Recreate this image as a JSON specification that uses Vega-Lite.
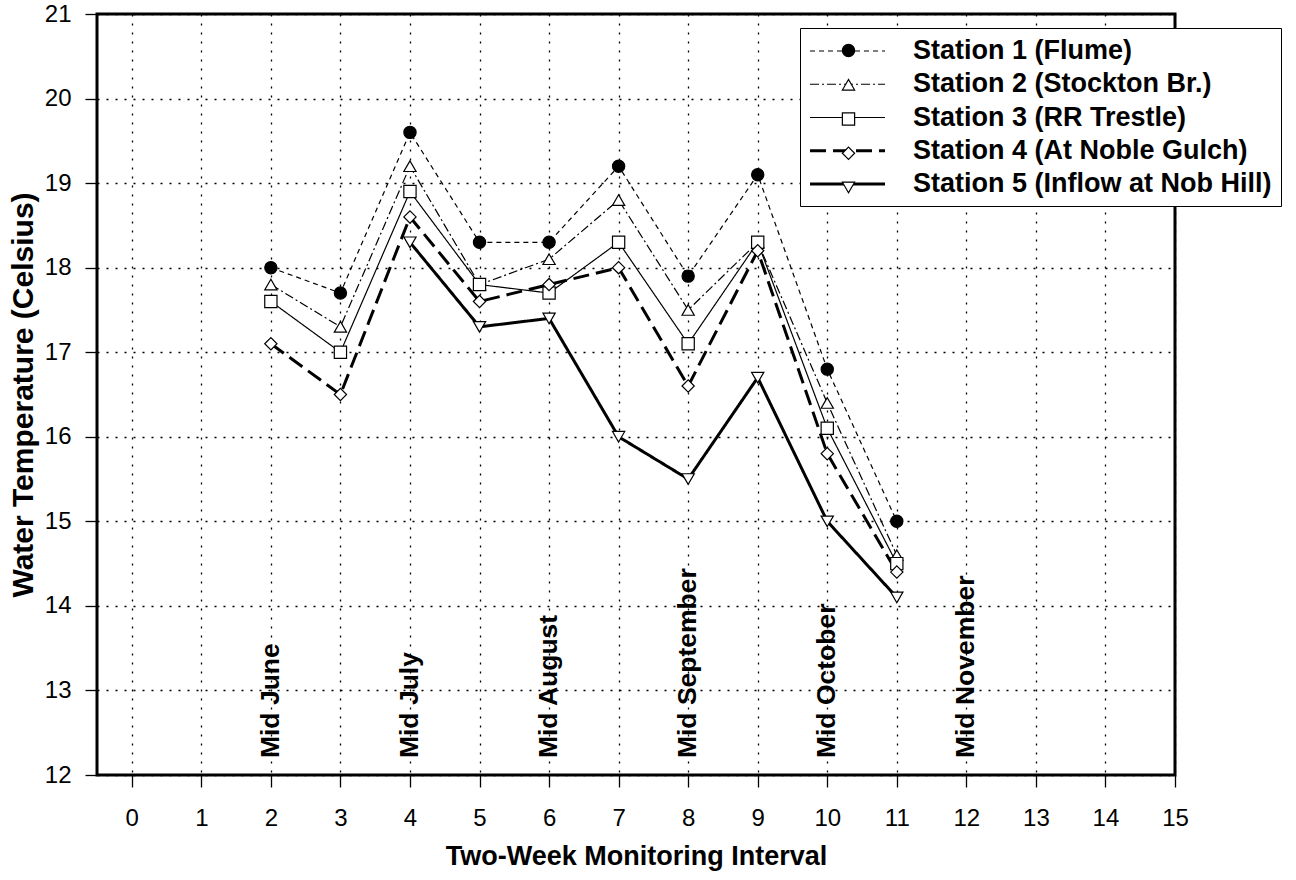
{
  "$schema": "https://vega.github.io/schema/vega-lite/v6.json",
  "width": 1078,
  "height": 761,
  "autosize": {"type": "none"},
  "padding": {"left": 97, "top": 14, "right": 121, "bottom": 105},
  "background": "white",
  "config": {
    "font": "Liberation Sans",
    "view": {"stroke": "black", "strokeWidth": 3},
    "axis": {
      "domain": false,
      "grid": true,
      "gridColor": "black",
      "gridDash": [2, 7],
      "gridWidth": 1.3,
      "gridOpacity": 1,
      "tickColor": "black",
      "tickWidth": 1.3,
      "tickSize": 12,
      "labelColor": "black",
      "labelFontSize": 24,
      "labelFlush": false,
      "labelOverlap": false,
      "titleColor": "black",
      "titleFontWeight": "bold"
    }
  },
  "datasets": {
    "temps": [
      {"interval": 2, "station": "Station 1 (Flume)", "temperature": 18.0},
      {"interval": 3, "station": "Station 1 (Flume)", "temperature": 17.7},
      {"interval": 4, "station": "Station 1 (Flume)", "temperature": 19.6},
      {"interval": 5, "station": "Station 1 (Flume)", "temperature": 18.3},
      {"interval": 6, "station": "Station 1 (Flume)", "temperature": 18.3},
      {"interval": 7, "station": "Station 1 (Flume)", "temperature": 19.2},
      {"interval": 8, "station": "Station 1 (Flume)", "temperature": 17.9},
      {"interval": 9, "station": "Station 1 (Flume)", "temperature": 19.1},
      {"interval": 10, "station": "Station 1 (Flume)", "temperature": 16.8},
      {"interval": 11, "station": "Station 1 (Flume)", "temperature": 15.0},
      {"interval": 2, "station": "Station 2 (Stockton Br.)", "temperature": 17.8},
      {"interval": 3, "station": "Station 2 (Stockton Br.)", "temperature": 17.3},
      {"interval": 4, "station": "Station 2 (Stockton Br.)", "temperature": 19.2},
      {"interval": 5, "station": "Station 2 (Stockton Br.)", "temperature": 17.8},
      {"interval": 6, "station": "Station 2 (Stockton Br.)", "temperature": 18.1},
      {"interval": 7, "station": "Station 2 (Stockton Br.)", "temperature": 18.8},
      {"interval": 8, "station": "Station 2 (Stockton Br.)", "temperature": 17.5},
      {"interval": 9, "station": "Station 2 (Stockton Br.)", "temperature": 18.3},
      {"interval": 10, "station": "Station 2 (Stockton Br.)", "temperature": 16.4},
      {"interval": 11, "station": "Station 2 (Stockton Br.)", "temperature": 14.6},
      {"interval": 2, "station": "Station 3 (RR Trestle)", "temperature": 17.6},
      {"interval": 3, "station": "Station 3 (RR Trestle)", "temperature": 17.0},
      {"interval": 4, "station": "Station 3 (RR Trestle)", "temperature": 18.9},
      {"interval": 5, "station": "Station 3 (RR Trestle)", "temperature": 17.8},
      {"interval": 6, "station": "Station 3 (RR Trestle)", "temperature": 17.7},
      {"interval": 7, "station": "Station 3 (RR Trestle)", "temperature": 18.3},
      {"interval": 8, "station": "Station 3 (RR Trestle)", "temperature": 17.1},
      {"interval": 9, "station": "Station 3 (RR Trestle)", "temperature": 18.3},
      {"interval": 10, "station": "Station 3 (RR Trestle)", "temperature": 16.1},
      {"interval": 11, "station": "Station 3 (RR Trestle)", "temperature": 14.5},
      {"interval": 2, "station": "Station 4 (At Noble Gulch)", "temperature": 17.1},
      {"interval": 3, "station": "Station 4 (At Noble Gulch)", "temperature": 16.5},
      {"interval": 4, "station": "Station 4 (At Noble Gulch)", "temperature": 18.6},
      {"interval": 5, "station": "Station 4 (At Noble Gulch)", "temperature": 17.6},
      {"interval": 6, "station": "Station 4 (At Noble Gulch)", "temperature": 17.8},
      {"interval": 7, "station": "Station 4 (At Noble Gulch)", "temperature": 18.0},
      {"interval": 8, "station": "Station 4 (At Noble Gulch)", "temperature": 16.6},
      {"interval": 9, "station": "Station 4 (At Noble Gulch)", "temperature": 18.2},
      {"interval": 10, "station": "Station 4 (At Noble Gulch)", "temperature": 15.8},
      {"interval": 11, "station": "Station 4 (At Noble Gulch)", "temperature": 14.4},
      {"interval": 4, "station": "Station 5 (Inflow at Nob Hill)", "temperature": 18.3},
      {"interval": 5, "station": "Station 5 (Inflow at Nob Hill)", "temperature": 17.3},
      {"interval": 6, "station": "Station 5 (Inflow at Nob Hill)", "temperature": 17.4},
      {"interval": 7, "station": "Station 5 (Inflow at Nob Hill)", "temperature": 16.0},
      {"interval": 8, "station": "Station 5 (Inflow at Nob Hill)", "temperature": 15.5},
      {"interval": 9, "station": "Station 5 (Inflow at Nob Hill)", "temperature": 16.7},
      {"interval": 10, "station": "Station 5 (Inflow at Nob Hill)", "temperature": 15.0},
      {"interval": 11, "station": "Station 5 (Inflow at Nob Hill)", "temperature": 14.1}
    ],
    "months": [
      {"interval": 2, "label": "Mid June"},
      {"interval": 4, "label": "Mid July"},
      {"interval": 6, "label": "Mid August"},
      {"interval": 8, "label": "Mid September"},
      {"interval": 10, "label": "Mid October"},
      {"interval": 12, "label": "Mid November"}
    ]
  },
  "layer": [
    {
      "data": {"name": "temps"},
      "mark": {"type": "line", "color": "black"},
      "encoding": {
        "x": {
          "field": "interval", "type": "quantitative",
          "scale": {"domain": [-0.5, 15], "nice": false, "zero": false},
          "axis": {
            "values": [0, 1, 2, 3, 4, 5, 6, 7, 8, 9, 10, 11, 12, 13, 14, 15],
            "format": "d",
            "title": "Two-Week Monitoring Interval",
            "titleFontSize": 27,
            "labelPadding": 19,
            "titlePadding": 13
          }
        },
        "y": {
          "field": "temperature", "type": "quantitative",
          "scale": {"domain": [12, 21], "nice": false, "zero": false},
          "axis": {
            "values": [12, 13, 14, 15, 16, 17, 18, 19, 20, 21],
            "format": "d",
            "title": "Water Temperature (Celsius)",
            "titleFontSize": 30,
            "labelPadding": 14,
            "titlePadding": 6
          }
        },
        "strokeDash": {
          "field": "station", "type": "nominal",
          "scale": {"range": [[5, 4], [9, 3, 2, 3], [1, 0], [16, 7], [1, 0]]},
          "legend": {
            "title": null,
            "orient": "none",
            "legendX": 703,
            "legendY": 14,
            "symbolType": "stroke",
            "symbolSize": 5625,
            "symbolStrokeColor": "black",
            "symbolOffset": 25,
            "labelFontSize": 27,
            "labelFontWeight": "bold",
            "labelColor": "black",
            "labelOffset": 52,
            "labelLimit": 0,
            "padding": 9,
            "rowPadding": 6.25,
            "strokeColor": "black",
            "fillColor": "white",
            "encode": {
              "entries": {"update": {"height": {"value": 28}}},
              "symbols": {"update": {"y": {"value": 14}, "strokeWidth": {"signal": "datum.value >= 'Station 4' ? 3 : 1.2"}}},
              "labels": {"update": {"y": {"value": 14}}}
            }
          }
        },
        "strokeWidth": {
          "condition": {"test": {"field": "station", "oneOf": ["Station 4 (At Noble Gulch)", "Station 5 (Inflow at Nob Hill)"]}, "value": 3},
          "value": 1.2
        }
      }
    },
    {
      "data": {"name": "temps"},
      "mark": {"type": "point", "filled": true, "strokeWidth": 1.2, "opacity": 1, "size": 150},
      "encoding": {
        "x": {"field": "interval", "type": "quantitative"},
        "y": {"field": "temperature", "type": "quantitative"},
        "shape": {
          "field": "station", "type": "nominal",
          "scale": {
            "domain": ["Station 1 (Flume)", "Station 2 (Stockton Br.)", "Station 3 (RR Trestle)", "Station 4 (At Noble Gulch)", "Station 5 (Inflow at Nob Hill)"],
            "range": ["circle", "triangle-up", "square", "diamond", "triangle-down"]
          },
          "legend": {
            "title": null, "orient": "none", "legendX": 703, "legendY": 14,
            "padding": 9, "rowPadding": 6.25,
            "labelFontSize": 27, "labelFontWeight": "bold", "labelExpr": "''", "labelLimit": 0, "symbolOffset": 26,
            "symbolStrokeWidth": 1.2, "symbolSize": 150,
            "encode": {
              "entries": {"update": {"height": {"value": 28}}},
              "symbols": {"update": {"y": {"value": 14}}},
              "labels": {"update": {"y": {"value": 14}}}
            }
          }
        },
        "fill": {
          "field": "station", "type": "nominal",
          "scale": {
            "domain": ["Station 1 (Flume)", "Station 2 (Stockton Br.)", "Station 3 (RR Trestle)", "Station 4 (At Noble Gulch)", "Station 5 (Inflow at Nob Hill)"],
            "range": ["black", "white", "white", "white", "white"]
          },
          "legend": {
            "title": null, "orient": "none", "legendX": 703, "legendY": 14,
            "padding": 9, "rowPadding": 6.25,
            "labelFontSize": 27, "labelFontWeight": "bold", "labelExpr": "''", "labelLimit": 0, "symbolOffset": 26,
            "symbolStrokeWidth": 1.2, "symbolSize": 150,
            "encode": {
              "entries": {"update": {"height": {"value": 28}}},
              "symbols": {"update": {"y": {"value": 14}}},
              "labels": {"update": {"y": {"value": 14}}}
            }
          }
        },
        "stroke": {
          "field": "station", "type": "nominal",
          "scale": {
            "domain": ["Station 1 (Flume)", "Station 2 (Stockton Br.)", "Station 3 (RR Trestle)", "Station 4 (At Noble Gulch)", "Station 5 (Inflow at Nob Hill)"],
            "range": ["black", "black", "black", "black", "black"]
          },
          "legend": {
            "title": null, "orient": "none", "legendX": 703, "legendY": 14,
            "padding": 9, "rowPadding": 6.25,
            "labelFontSize": 27, "labelFontWeight": "bold", "labelExpr": "''", "labelLimit": 0, "symbolOffset": 26,
            "symbolStrokeWidth": 1.2, "symbolSize": 150,
            "encode": {
              "entries": {"update": {"height": {"value": 28}}},
              "symbols": {"update": {"y": {"value": 14}}},
              "labels": {"update": {"y": {"value": 14}}}
            }
          }
        }
      }
    },
    {
      "data": {"name": "months"},
      "mark": {"type": "text", "angle": 270, "align": "left", "baseline": "middle", "fontSize": 26.5, "fontWeight": "bold", "color": "black"},
      "encoding": {
        "x": {"field": "interval", "type": "quantitative"},
        "y": {"datum": 12.2},
        "text": {"field": "label", "type": "nominal"}
      }
    }
  ]
}
